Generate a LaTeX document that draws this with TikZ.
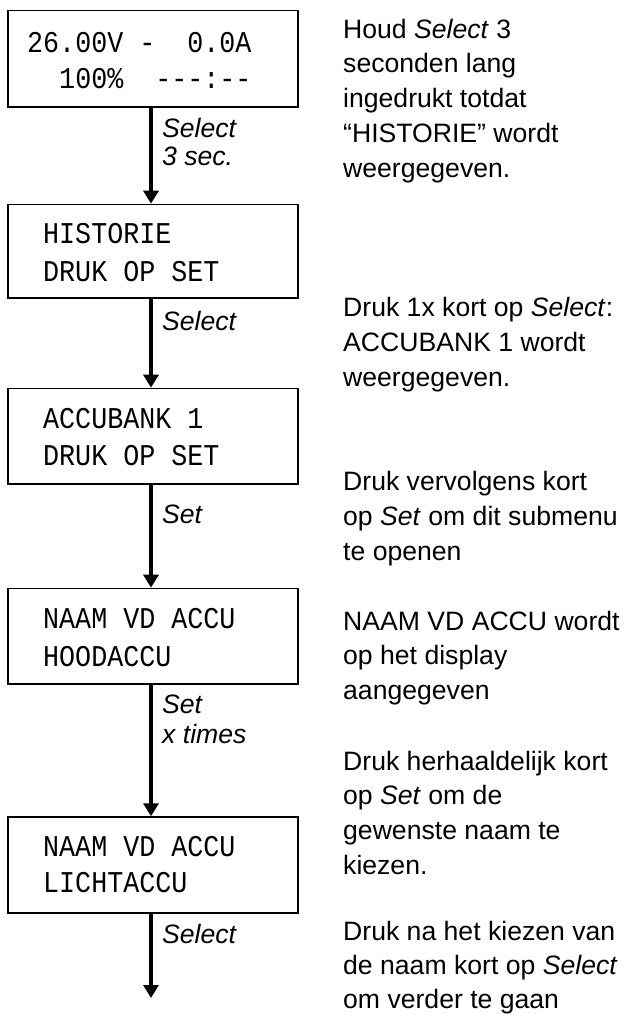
\documentclass[tikz,border=0pt]{standalone}
\usepackage{fontspec}
\usepackage{graphicx}
\setmainfont{Liberation Sans}
\setmonofont{Liberation Mono}
\usetikzlibrary{arrows.meta}
\newcommand{\lcdtext}[1]{\scalebox{1}[1.13]{#1}}
\begin{document}
\begin{tikzpicture}[x=1pt,y=-1pt,
  lcd/.style={draw, line width=1.8pt, minimum width=289.5pt, inner sep=0pt},
  mono/.style={anchor=base west, inner sep=0pt, font=\fontsize{26.7}{30}\selectfont\ttfamily},
  desc/.style={anchor=base west, inner sep=0pt, font=\fontsize{26.6}{35}\selectfont},
  lbl/.style={anchor=base west, inner sep=0pt, font=\fontsize{26.6}{30}\selectfont\itshape},
  flow/.style={line width=3.2pt, -{Triangle[length=13pt,width=15pt]}}]
\useasboundingbox (0,0) rectangle (625,1014);

% display boxes
\node[lcd, minimum height=96.2pt] (b1) at (153,58.6) {};
\node[lcd, minimum height=93.3pt] (b2) at (153,251.2) {};
\node[lcd, minimum height=95.3pt] (b3) at (153,436.2) {};
\node[lcd, minimum height=95.3pt] (b4) at (153,636.2) {};
\node[lcd, minimum height=95.6pt] (b5) at (153,865) {};

% display texts
\node[mono] (b1a) at (27,52.5) {\lcdtext{26.00V -~~0.0A}};
\node[mono] (b1b) at (27,88.5) {\lcdtext{~~100\%~~---:--}};
\node[mono] (b2a) at (43,243.3) {\lcdtext{HISTORIE}};
\node[mono] (b2b) at (43,281.7) {\lcdtext{DRUK OP SET}};
\node[mono] (b3a) at (43,428.3) {\lcdtext{ACCUBANK 1}};
\node[mono] (b3b) at (43,465.7) {\lcdtext{DRUK OP SET}};
\node[mono] (b4a) at (43,628.3) {\lcdtext{NAAM VD ACCU}};
\node[mono] (b4b) at (43,666) {\lcdtext{HOODACCU}};
\node[mono] (b5a) at (43,856.7) {\lcdtext{NAAM VD ACCU}};
\node[mono] (b5b) at (43,892.3) {\lcdtext{LICHTACCU}};

% connectors
\coordinate (ax) at (151,0);
\coordinate (tail) at (151,998);
\draw[flow] (b1.south -| ax) -- (b2.north -| ax);
\draw[flow] (b2.south -| ax) -- (b3.north -| ax);
\draw[flow] (b3.south -| ax) -- (b4.north -| ax);
\draw[flow] (b4.south -| ax) -- (b5.north -| ax);
\draw[flow] (b5.south -| ax) -- (tail);

% connector labels
\node[lbl] (l1a) at (162,137) {Select};
\node[lbl] (l1b) at (162,165.5) {3 sec.};
\node[lbl] (l2) at (162,330) {Select};
\node[lbl] (l3) at (162,523) {Set};
\node[lbl] (l4a) at (162,713) {Set};
\node[lbl] (l4b) at (162,743) {x times};
\node[lbl] (l5) at (162,943) {Select};

% descriptions
\node[desc] (d1a) at (343,38.3) {Houd \textit{Select} 3};
\node[desc] (d1b) at (343,73) {seconden lang};
\node[desc] (d1c) at (343,107.7) {ingedrukt totdat};
\node[desc] (d1d) at (343,142.4) {“HISTORIE” wordt};
\node[desc] (d1e) at (343,177.1) {weergegeven.};

\node[desc] (d2a) at (343,316.7) {Druk 1x kort op \textit{Select}:};
\node[desc] (d2b) at (343,351.4) {ACCUBANK 1 wordt};
\node[desc] (d2c) at (343,386.1) {weergegeven.};

\node[desc] (d3a) at (343,490) {Druk vervolgens kort};
\node[desc] (d3b) at (343,525) {op \textit{Set} om dit submenu};
\node[desc] (d3c) at (343,560) {te openen};

\node[desc] (d4a) at (343,630) {NAAM VD ACCU wordt};
\node[desc] (d4b) at (343,664.7) {op het display};
\node[desc] (d4c) at (343,699.4) {aangegeven};

\node[desc] (d5a) at (343,770) {Druk herhaaldelijk kort};
\node[desc] (d5b) at (343,804.7) {op \textit{Set} om de};
\node[desc] (d5c) at (343,839.4) {gewenste naam te};
\node[desc] (d5d) at (343,874.1) {kiezen.};

\node[desc] (d6a) at (343,940) {Druk na het kiezen van};
\node[desc] (d6b) at (343,974.5) {de naam kort op \textit{Select}};
\node[desc] (d6c) at (343,1008.5) {om verder te gaan};
\end{tikzpicture}
\end{document}
